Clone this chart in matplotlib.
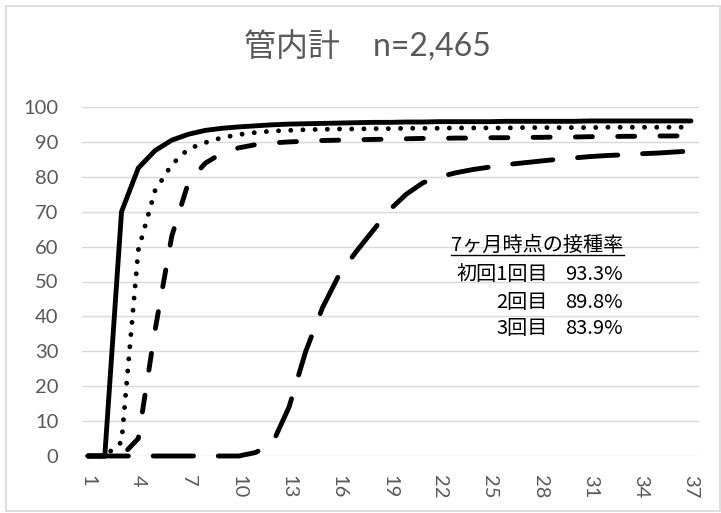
import matplotlib
matplotlib.use("Agg")
import matplotlib.pyplot as plt
from matplotlib.patches import Rectangle
from matplotlib.lines import Line2D

# ---------------- data ----------------
months = list(range(1, 38))
dose1 = [0, 0, 70, 82.5, 87.5, 90.5, 92.2, 93.3, 93.9, 94.3, 94.6, 94.9, 95.1, 95.2,
         95.3, 95.4, 95.5, 95.6, 95.6, 95.7, 95.7, 95.8, 95.8, 95.8, 95.8, 95.9, 95.9,
         95.9, 95.9, 95.9, 96.0, 96.0, 96.0, 96.0, 96.0, 96.0, 96.0]
dose2 = [0, 0, 4, 59, 76, 83.5, 88, 89.8, 91.2, 92.1, 92.7, 93.1, 93.3, 93.5, 93.6,
         93.7, 93.7, 93.8, 93.8, 93.9, 93.9, 93.9, 94.0, 94.0, 94.0, 94.0, 94.1, 94.1,
         94.1, 94.1, 94.1, 94.2, 94.2, 94.2, 94.2, 94.2, 94.2]
dose3 = [0, 0, 0, 5, 36, 63, 78.5, 83.9, 86.8, 88.3, 89.2, 89.7, 90.0, 90.2, 90.4,
         90.5, 90.6, 90.7, 90.8, 90.9, 91.0, 91.0, 91.1, 91.1, 91.2, 91.2, 91.3, 91.3,
         91.4, 91.4, 91.5, 91.5, 91.6, 91.6, 91.7, 91.7, 91.8]
booster = [0, 0, 0, 0, 0, 0, 0, 0, 0, 0, 1, 3.5, 14, 30, 42.5, 52, 58.5, 64.5, 70.5,
           75, 78.3, 80, 81.2, 82.1, 82.8, 83.5, 84, 84.5, 85, 85.4, 85.8, 86.1, 86.3,
           86.6, 86.8, 87.1, 87.4]
xticks = list(range(1, 38, 3))
yticks = list(range(0, 101, 10))

title = "管内計    n=2,465"
note_head = "7ヶ月時点の接種率"
note_labels = ["初回1回目", "2回目", "3回目"]
note_rates = [93.3, 89.8, 83.9]

# ---------------- figure ----------------
W, H = 721, 513
fig = plt.figure(figsize=(W / 100, H / 100), dpi=100)
fig.patch.set_facecolor("white")

def fx(px):
    return px / W

def fy(py):
    return 1 - py / H

ax = fig.add_axes([fx(82), fy(456), fx(699) - fx(82), fy(107) - fy(456)])
ax.set_xlim(0.64, 37.48)
ax.set_ylim(0, 100)

lw = 3.5
common = dict(color="black", linewidth=lw, clip_on=False,
              solid_capstyle="round", solid_joinstyle="round",
              dash_capstyle="round", dash_joinstyle="round")
ax.plot(months, booster, linestyle=(0, (8.3, 5.1)), zorder=3, **common)
ax.plot(months, dose3, linestyle=(0, (3.5, 5.2)), zorder=4, **common)
ax.plot(months, dose2, linestyle=(0, (0.01, 2.5)), zorder=5, **common)
ax.plot(months, dose1, linestyle="-", zorder=6, **common)

for s in ax.spines.values():
    s.set_visible(False)
ax.set_yticks(yticks)
ax.set_xticks(xticks)
ax.yaxis.grid(True, color="#d9d9d9", linewidth=1.0)
ax.set_axisbelow(True)
ax.tick_params(axis="both", length=0, colors="#595959", labelsize=14.5)
ax.tick_params(axis="y", pad=17)
ax.tick_params(axis="x", pad=14)
for lab in ax.get_yticklabels() + ax.get_xticklabels():
    lab.set_family(["Lato", "DejaVu Sans"])
for lab in ax.get_xticklabels():
    lab.set_rotation(-90)
    lab.set_va("top")
    lab.set_ha("center")

# title
fig.text(fx(367), fy(47), title, ha="center", va="center", fontsize=23,
         color="#595959", family=["Lato", "Noto Sans CJK JP"])

# annotation
cjk = ["Noto Sans CJK JP", "DejaVu Sans"]
fs = 14.5
fig.text(fx(451), fy(245), note_head, ha="left", va="center", fontsize=fs,
         color="black", family=cjk)
fig.add_artist(Line2D([fx(451), fx(624)], [fy(254.5), fy(254.5)],
                      color="black", linewidth=1.0, transform=fig.transFigure))
row_y = [275, 302, 329]
for lab, rate, yy in zip(note_labels, note_rates, row_y):
    fig.text(fx(548), fy(yy), lab, ha="right", va="center", fontsize=fs,
             color="black", family=cjk)
    fig.text(fx(565), fy(yy), f"{rate:.1f}%", ha="left", va="center",
             fontsize=fs, color="black", family=cjk)

# chart border
fig.add_artist(Rectangle((fx(6), fy(511)), fx(720) - fx(6), fy(6) - fy(511),
                         transform=fig.transFigure, fill=False,
                         edgecolor="#d9d9d9", linewidth=1.2))

fig.savefig("out.png", dpi=100, facecolor="white")
